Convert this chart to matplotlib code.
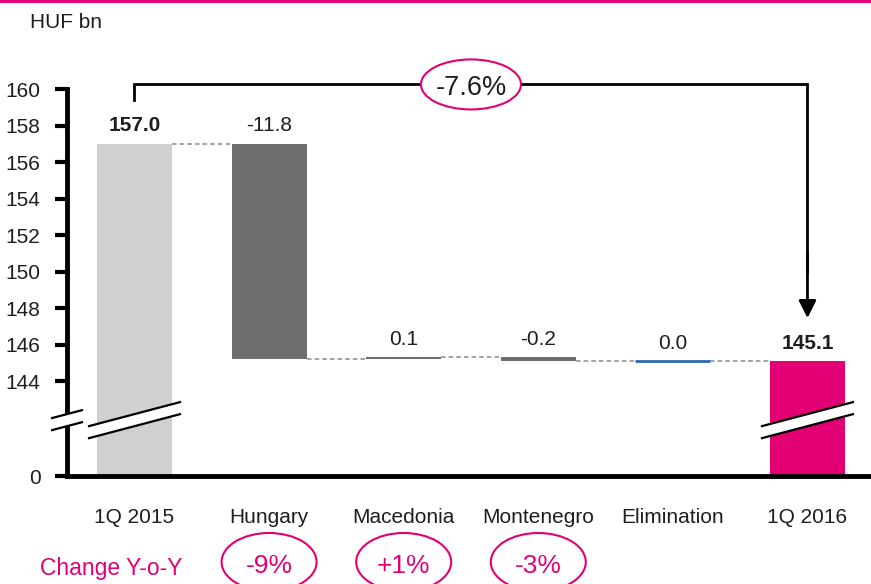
import matplotlib
matplotlib.use("Agg")
import matplotlib.pyplot as plt
from matplotlib.patches import Ellipse, Polygon, Rectangle
import matplotlib.transforms as mtrans

# data
categories = ["1Q 2015", "Hungary", "Macedonia", "Montenegro", "Elimination", "1Q 2016"]
start_total = 157.0
deltas = [-11.8, 0.1, -0.2, 0.0]
end_total = 145.1
yoy_change = ["-9%", "+1%", "-3%"]   # Hungary, Macedonia, Montenegro
total_change = "-7.6%"
y_ticks = [144, 146, 148, 150, 152, 154, 156, 158, 160]

MAGENTA = "#E20074"
TXT = "#1e1e1e"
BASE = 138.8   # where the broken axis puts "0"

plt.rcParams["font.family"] = ["Liberation Sans", "DejaVu Sans"]

fig = plt.figure(figsize=(8.71, 5.84), dpi=100)
ax = fig.add_axes([67 / 871, 1 - 476 / 584, 1 - 67 / 871, (476 - 89) / 584])
ax.set_xlim(-0.5015, 5.472)
ax.set_ylim(BASE, 160)

w = 0.557
colors = ["#D0D0D0", "#6E6E6E", "#6E6E6E", "#6E6E6E", "#2F6AB0", MAGENTA]

# totals
ax.bar(0, start_total - BASE, bottom=BASE, width=w, color=colors[0], zorder=2)
ax.bar(len(categories) - 1, end_total - BASE, bottom=BASE, width=w, color=colors[-1], zorder=2)

levels = [start_total]
tops = [start_total]
run = start_total
for i, d in enumerate(deltas, start=1):
    lo, hi = min(run, run + d), max(run, run + d)
    if d == 0:
        ax.hlines(run, i - w / 2, i + w / 2, color=colors[i], lw=2, zorder=3)
    else:
        ax.bar(i, hi - lo, bottom=lo, width=w, color=colors[i], zorder=2)
    run += d
    levels.append(run)
    tops.append(hi)
tops.append(end_total)

# connectors
for i in range(len(categories) - 1):
    ax.plot([i + w / 2, i + 1 - w / 2], [levels[i], levels[i]], ls=(0, (3, 2)),
            color="#8a8a8a", lw=1.1, zorder=1)

# value labels
labels = [f"{start_total:.1f}"] + [f"{d:.1f}" for d in deltas] + [f"{end_total:.1f}"]
for i, (lab, t) in enumerate(zip(labels, tops)):
    bold = i in (0, len(categories) - 1)
    ax.annotate(lab, (i, t), xytext=(0, 6), textcoords="offset points",
                ha="center", va="bottom", fontsize=15, color=TXT,
                fontweight="bold" if bold else "normal")

# axes styling
for s in ["top", "right"]:
    ax.spines[s].set_visible(False)
ax.spines["left"].set_linewidth(3.5)
ax.spines["bottom"].set_linewidth(3.5)
ax.spines["bottom"].set_zorder(4)
ax.set_yticks([BASE] + y_ticks)
ax.set_yticklabels(["0"] + [str(t) for t in y_ticks])
ax.tick_params(axis="y", length=9, width=3, pad=10, labelsize=15, labelcolor=TXT)
ax.set_xticks([])

# category labels
tr = mtrans.blended_transform_factory(ax.transData, ax.transAxes)
for i, c in enumerate(categories):
    ax.text(i, -47 / 387, c, transform=tr, ha="center", va="baseline",
            fontsize=15, color=TXT)

# yoy ellipses
for i, v in enumerate(yoy_change, start=1):
    e = Ellipse((i, -86 / 387), width=95 / 134.6, height=58 / 387, transform=tr,
                fc="white", ec=MAGENTA, lw=1.5, clip_on=False)
    ax.add_patch(e)
    ax.text(i, -97 / 387, v, transform=tr, ha="center", va="baseline",
            fontsize=19, color=MAGENTA)

fig.text(40 / 871, 1 - 575 / 584, "Change Y-o-Y", color=MAGENTA, fontsize=16.5,
         va="baseline")
fig.text(30 / 871, 1 - 28 / 584, "HUF bn", color=TXT, fontsize=15, va="baseline")

# top magenta rule
fig.add_artist(Rectangle((0, 1 - 3 / 584), 1, 3 / 584, transform=fig.transFigure,
                         color=MAGENTA, lw=0))

# bracket with arrow
n = len(categories) - 1
yb = 160.25
ax.plot([0, 0, n, n], [159.4, yb, yb, 150], color="black", lw=2, clip_on=False,
        zorder=5, solid_joinstyle="miter")
ax.annotate("", xy=(n, end_total + 2.35), xytext=(n, 151), annotation_clip=False,
            arrowprops=dict(arrowstyle="-|>,head_length=0.7,head_width=0.35",
                            mutation_scale=15, color="black", lw=2,
                            shrinkA=0, shrinkB=0), zorder=5)
ax.add_patch(Ellipse((n / 2, yb), width=100 / 134.6, height=50 / 18.25, fc="white",
                     ec=MAGENTA, lw=1.5, clip_on=False, zorder=6))
ax.text(n / 2, 159.67, total_change, ha="center", va="baseline", fontsize=19.5,
        color=TXT, zorder=7)


# axis break marks
def break_mark(xc, half, yc=141.86, gap=0.66):
    slope = 1.315 / 0.676
    x0, x1 = xc - half, xc + half
    y0, y1 = yc - slope * half, yc + slope * half
    ax.add_patch(Polygon([(x0, y0 - gap / 2), (x1, y1 - gap / 2), (x1, y1 + gap / 2),
                          (x0, y0 + gap / 2)], closed=True, fc="white", ec="none",
                         clip_on=False, zorder=8))
    for off in (-gap / 2, gap / 2):
        ax.plot([x0, x1], [y0 + off, y1 + off], color="black", lw=1.6,
                clip_on=False, zorder=9)


break_mark(0, 0.338)
break_mark(n, 0.338)
break_mark(-0.5015, 0.111)

fig.savefig("out.png", dpi=100)
